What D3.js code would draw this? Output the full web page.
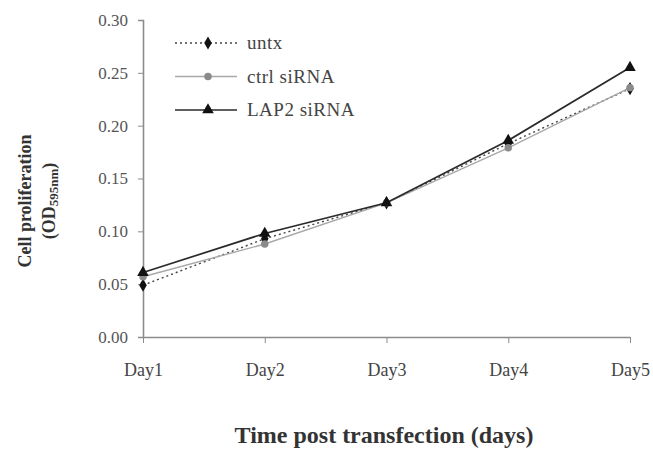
<!DOCTYPE html>
<html>
<head>
<meta charset="utf-8">
<script src="https://cdn.jsdelivr.net/npm/d3@7"></script>
<style>
  body { margin: 0; background: #fff; }
  svg { display: block; }
  text { font-family: "Liberation Serif", "Times New Roman", serif; }
</style>
</head>
<body>
<svg id="chart" width="653" height="451"></svg>
<script>
// Cell proliferation (OD595nm) over five days after transfection
const days = ["Day1", "Day2", "Day3", "Day4", "Day5"];
const untx = [0.049, 0.093, 0.127, 0.183, 0.235];
const ctrlSiRNA = [0.057, 0.088, 0.127, 0.179, 0.236];
const lap2SiRNA = [0.061, 0.098, 0.127, 0.186, 0.255];
const yTicks = [0.00, 0.05, 0.10, 0.15, 0.20, 0.25, 0.30];

const series = [
  { name: "untx", values: untx, stroke: "#444", dash: "2,3", width: 1.4, marker: d3.symbolDiamond, fill: "#111", size: 50 },
  { name: "ctrl siRNA", values: ctrlSiRNA, stroke: "#a8a8a8", dash: null, width: 1.4, marker: d3.symbolCircle, fill: "#8a8a8a", size: 44 },
  { name: "LAP2 siRNA", values: lap2SiRNA, stroke: "#2a2a2a", dash: null, width: 1.7, marker: d3.symbolTriangle, fill: "#111", size: 58 }
];

const svg = d3.select("#chart");
const plotLeft = 143, plotRight = 630, plotTop = 20, plotBottom = 337;

const x = d3.scalePoint().domain(days).range([plotLeft, plotRight]);
const y = d3.scaleLinear().domain([0, 0.30]).range([plotBottom, plotTop]);

// Y axis
const yAxis = svg.append("g")
  .attr("transform", `translate(${plotLeft},0)`)
  .call(d3.axisLeft(y).tickValues(yTicks).tickFormat(d3.format(".2f")).tickSize(5).tickPadding(10));
yAxis.select(".domain").attr("stroke", "#8c8c8c").attr("stroke-width", 1.6);
yAxis.selectAll(".tick line").attr("stroke", "#8c8c8c");
yAxis.selectAll(".tick text").attr("fill", "#555").style("font-size", "17px")
  .style("font-family", "'Liberation Serif', serif");

// X axis
const xAxis = svg.append("g")
  .attr("transform", `translate(0,${plotBottom})`)
  .call(d3.axisBottom(x).tickSize(6).tickSizeOuter(0).tickPadding(20));
xAxis.select(".domain").attr("stroke", "#8c8c8c").attr("stroke-width", 1.6);
xAxis.selectAll(".tick line").attr("stroke", "#8c8c8c");
xAxis.selectAll(".tick text").attr("fill", "#444").style("font-size", "18px")
  .style("font-family", "'Liberation Serif', serif");

// Series lines and markers
const line = d3.line().x((d, i) => x(days[i])).y(d => y(d));
series.forEach(s => {
  svg.append("path")
    .datum(s.values)
    .attr("d", line)
    .attr("fill", "none")
    .attr("stroke", s.stroke)
    .attr("stroke-width", s.width)
    .attr("stroke-dasharray", s.dash);
  svg.selectAll(null)
    .data(s.values)
    .join("path")
    .attr("transform", (d, i) => `translate(${x(days[i])},${y(d)})`)
    .attr("d", d3.symbol().type(s.marker).size(s.size))
    .attr("fill", s.fill);
});

// Legend
const legend = svg.append("g").attr("transform", "translate(175,43)");
series.forEach((s, i) => {
  const g = legend.append("g").attr("transform", `translate(0,${i * 33.5})`);
  g.append("line").attr("x1", 0).attr("x2", 62).attr("y1", 0).attr("y2", 0)
    .attr("stroke", s.stroke).attr("stroke-width", s.width).attr("stroke-dasharray", s.dash);
  g.append("path").attr("transform", "translate(33,0)")
    .attr("d", d3.symbol().type(s.marker).size(s.size)).attr("fill", s.fill);
  g.append("text").attr("x", 72).attr("y", 6).text(s.name)
    .attr("fill", "#444").style("font-size", "19px").style("letter-spacing", "0.5px");
});

// Axis titles
const yTitle = svg.append("text")
  .attr("transform", "translate(31,201) rotate(-90)")
  .attr("text-anchor", "middle")
  .style("font-size", "18px").style("font-weight", "bold").attr("fill", "#333");
yTitle.append("tspan").attr("x", 0).attr("dy", 0).text("Cell proliferation");
yTitle.append("tspan").attr("x", 0).attr("dy", 24).text("(OD");
yTitle.append("tspan").attr("dy", 3).style("font-size", "13px").text("595nm");
yTitle.append("tspan").attr("dy", -3).text(")");

svg.append("text")
  .attr("x", 384).attr("y", 443)
  .attr("text-anchor", "middle")
  .style("font-size", "24px").style("font-weight", "bold").attr("fill", "#333")
  .text("Time post transfection (days)");
</script>
</body>
</html>
